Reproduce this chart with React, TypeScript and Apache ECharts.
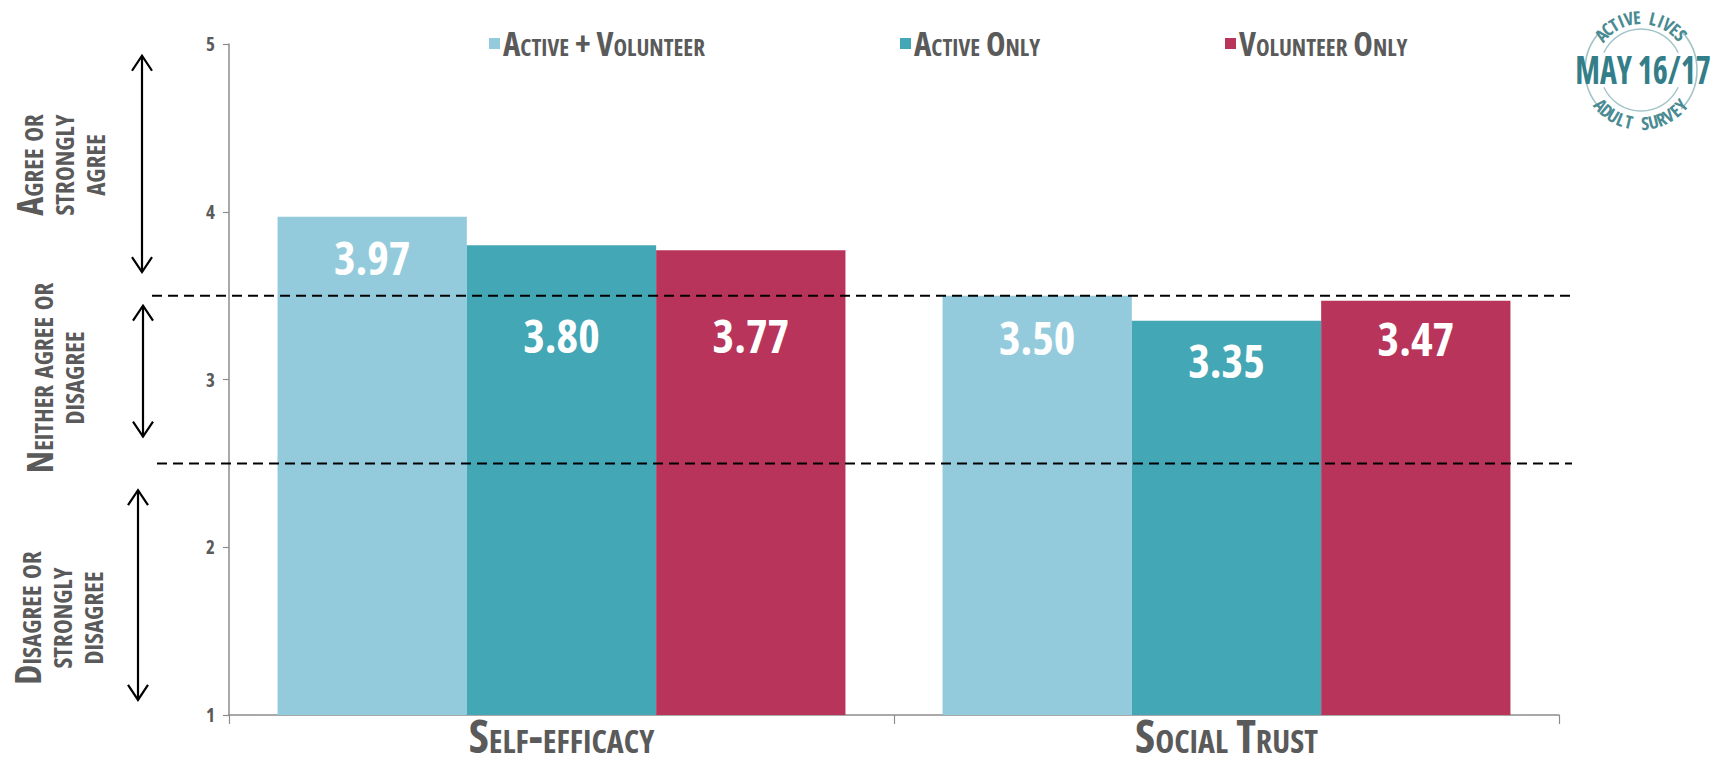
import React, { useEffect, useRef } from "react";
import * as echarts from "echarts";

// ---- data ----
const categories = ["Self-efficacy", "Social Trust"];
const seriesNames = ["Active + Volunteer", "Active Only", "Volunteer Only"];
const activeVolunteer = [3.97, 3.5];
const activeOnly = [3.8, 3.35];
const volunteerOnly = [3.77, 3.47];
const yMin = 1;
const yMax = 5;
const yInterval = 1;
const thresholds = [3.5, 2.5];
const bandLabels = [
  "Agree or\nstrongly\nagree",
  "Neither agree or\ndisagree",
  "Disagree or\nstrongly\ndisagree",
];
const arrowRanges = [
  [4.93, 3.64],
  [3.44, 2.66],
  [2.34, 1.09],
];
const logoTop = "ACTIVE LIVES";
const logoMid = "MAY 16/17";
const logoBottom = "ADULT SURVEY";

// ---- styles ----
const COND = "'Open Sans';font-stretch:condensed";
const COND_SC = "'Open Sans';font-stretch:condensed;font-variant:small-caps";
const COLORS = ["#94CBDC", "#43A7B6", "#B8345B"];
const GREY = "#5a5a5a";
const AXIS = "#8c8c8c";
const LEGEND_LEFT = [484, 895, 1220];
const LABEL_DROP = [
  [40, 41],
  [90, 39],
  [85, 37],
];
const LOGO = { cx: 1641, cy: 70 };
const TEAL_DARK = "#337e88";
const TEAL_TEXT = "#4a8a92";
const TEAL_LIGHT = "#a3c4c8";

const seriesValues = [activeVolunteer, activeOnly, volunteerOnly];

function arcLetters(text: string, r: number, spanDeg: number, top: boolean, font: string, color: string) {
  const n = text.length;
  const step = spanDeg / (n - 1);
  const out: any[] = [];
  for (let k = 0; k < n; k++) {
    const off = (k - (n - 1) / 2) * step;
    const deg = top ? -90 + off : 90 - off;
    const th = (deg * Math.PI) / 180;
    const x = LOGO.cx + r * Math.cos(th);
    const y = LOGO.cy + r * Math.sin(th);
    const rot = top ? -(th + Math.PI / 2) : -(th - Math.PI / 2);
    out.push({
      type: "text",
      x,
      y,
      rotation: rot,
      z: 100,
      style: { text: text[k], font, fill: color, align: "center", verticalAlign: "middle" },
    });
  }
  return out;
}

export default function App() {
  const ref = useRef<HTMLDivElement>(null);

  useEffect(() => {
    if (!ref.current) return;
    const chart = echarts.init(ref.current, undefined, { renderer: "svg" });

    const option: any = {
      animation: false,
      backgroundColor: "#ffffff",
      grid: { left: 229, right: 153, top: 44, bottom: 54, containLabel: false },
      legend: seriesNames.map((n, i) => ({
        data: [n],
        left: LEGEND_LEFT[i],
        top: 33,
        icon: "rect",
        itemWidth: 11,
        itemHeight: 11,
        itemGap: 0,
        selectedMode: false,
        textStyle: {
          fontFamily: COND_SC,
          fontWeight: "bold",
          fontSize: 33,
          color: GREY,
          padding: [0, 0, 0, -2],
        },
      })),
      xAxis: {
        type: "category",
        data: categories,
        axisLine: { lineStyle: { color: AXIS, width: 1.5 } },
        axisTick: { show: true, length: 9, lineStyle: { color: AXIS, width: 1.2 } },
        axisLabel: {
          fontFamily: COND_SC,
          fontWeight: "bold",
          fontSize: 46,
          color: GREY,
          margin: 15,
        },
      },
      yAxis: {
        type: "value",
        min: yMin,
        max: yMax,
        interval: yInterval,
        axisLine: { show: true, lineStyle: { color: AXIS, width: 1.5 } },
        axisTick: { show: true, length: 6, lineStyle: { color: AXIS, width: 1.2 } },
        splitLine: { show: false },
        axisLabel: {
          fontFamily: COND,
          fontWeight: "bold",
          fontSize: 19,
          color: GREY,
          margin: 14,
        },
      },
      series: seriesValues.map((vals, i) => ({
        name: seriesNames[i],
        type: "bar",
        barGap: "0%",
        barCategoryGap: "14.6%",
        itemStyle: { color: COLORS[i] },
        label: {
          show: true,
          position: "insideTop",
          verticalAlign: "middle",
          color: "#ffffff",
          fontFamily: COND,
          fontWeight: "bold",
          fontSize: 46,
          formatter: (p: any) => Number(p.value).toFixed(2),
        },
        data: vals.map((v, j) => ({ value: v, label: { distance: LABEL_DROP[i][j] } })),
      })),
    };
    chart.setOption(option);

    const yPx = (v: number) => chart.convertToPixel({ yAxisIndex: 0 }, v) as number;

    const graphics: any[] = [];
    thresholds.forEach((t, i) => {
      const y = yPx(t);
      graphics.push({
        type: "line",
        z: 100,
        shape: { x1: i === 0 ? 152 : 157, y1: y, x2: 1572, y2: y },
        style: { stroke: "#000", lineWidth: 2, lineDash: [10, 6] },
      });
    });
    const arrowX = [142, 143, 138];
    arrowRanges.forEach(([a, b], i) => {
      const x = arrowX[i];
      const y1 = yPx(a);
      const y2 = yPx(b);
      const st = { stroke: "#000", lineWidth: 2.2, fill: null };
      graphics.push({ type: "line", z: 100, shape: { x1: x, y1, x2: x, y2 }, style: st });
      graphics.push({ type: "polyline", z: 100, shape: { points: [[x - 10, y1 + 15], [x, y1], [x + 10, y1 + 15]] }, style: st });
      graphics.push({ type: "polyline", z: 100, shape: { points: [[x - 10, y2 - 15], [x, y2], [x + 10, y2 - 15]] }, style: st });
    });
    const bandPos = [
      [60, 165],
      [55, 378],
      [58, 618],
    ];
    bandLabels.forEach((t, i) => {
      graphics.push({
        type: "text",
        x: bandPos[i][0],
        y: bandPos[i][1],
        rotation: Math.PI / 2,
        z: 100,
        style: {
          text: t,
          font: "small-caps bold condensed 36px 'Open Sans'",
          fill: GREY,
          align: "center",
          verticalAlign: "middle",
          lineHeight: 31,
        },
      });
    });
    const d2r = Math.PI / 180;
    const ring = (r: number, a: number, b: number, w: number) => ({
      type: "arc",
      z: 100,
      shape: { cx: LOGO.cx, cy: LOGO.cy, r, startAngle: a * d2r, endAngle: b * d2r, clockwise: true },
      style: { stroke: TEAL_LIGHT, lineWidth: w, fill: null },
    });
    graphics.push(ring(56, 136, 224, 1.6), ring(56, -44, 44, 1.6), ring(41, -155, -25, 1.4), ring(41, 25, 155, 1.4));
    graphics.push(...arcLetters(logoTop, 53, 98, true, "bold condensed 18px 'Open Sans'", TEAL_TEXT));
    graphics.push(...arcLetters(logoBottom, 53, 98, false, "bold condensed 18px 'Open Sans'", TEAL_TEXT));
    graphics.push({
      type: "text",
      x: LOGO.cx + 2,
      y: LOGO.cy - 1,
      scaleX: 0.8,
      z: 100,
      style: {
        text: logoMid,
        font: "bold condensed 40px 'Open Sans'",
        fill: TEAL_DARK,
        align: "center",
        verticalAlign: "middle",
      },
    });

    chart.setOption({ graphic: graphics });
    return () => chart.dispose();
  }, []);

  return <div ref={ref} style={{ position: "absolute", left: 0, top: 0, width: 1712, height: 769, background: "#fff" }} />;
}
